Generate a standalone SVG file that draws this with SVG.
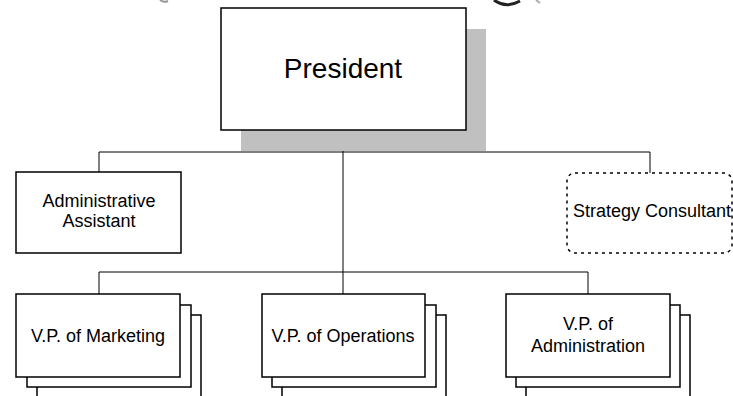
<svg xmlns="http://www.w3.org/2000/svg" width="733" height="396" viewBox="0 0 733 396">
<style>
.box{fill:#fff;stroke:#000;stroke-width:1.5}
.dash{fill:#fff;stroke:#000;stroke-width:1.5;stroke-dasharray:3 4}
.conn{fill:none;stroke:#000;stroke-width:1}
.t{font-family:"Liberation Sans",Arial,sans-serif;font-size:18px;fill:#000}
.c{text-anchor:middle}
</style>
<rect width="733" height="396" fill="#fff"/>
<g id="title-fragments">
<path d="M160 0 Q164 3 168 1" fill="none" stroke="#999" stroke-width="2"/>
<path d="M494 0 Q506 9 520 1" fill="none" stroke="#222" stroke-width="3"/>
<path d="M536 0 L540 3" fill="none" stroke="#aaa" stroke-width="2"/>
</g>
<g id="connectors">
<path class="conn" d="M343 130 V272 M99 152 H650 M99 152 V172 M650 152 V173 M99 272 H588 M99 272 V294 M343 272 V294 M588 272 V294"/>
</g>
<g id="president">
<rect x="241" y="29" width="245" height="122" fill="#c0c0c0"/>
<rect class="box" x="221" y="8" width="245" height="122"/>
<text class="t c" x="343" y="78" style="font-size:28px">President</text>
</g>
<g id="admin-assistant">
<rect class="box" x="16" y="172" width="165" height="81"/>
<text class="t c" x="99" y="207">Administrative</text>
<text class="t c" x="99" y="227">Assistant</text>
</g>
<g id="strategy-consultant">
<rect class="dash" x="567" y="173" width="165" height="80" rx="8"/>
<text class="t" x="573" y="217">Strategy Consultant</text>
</g>
<g id="vp-marketing">
<rect class="box" x="37" y="315" width="164" height="100"/>
<rect class="box" x="27" y="305" width="164" height="82"/>
<rect class="box" x="16" y="294" width="164" height="83"/>
<text class="t c" x="98" y="342">V.P. of Marketing</text>
</g>
<g id="vp-operations">
<rect class="box" x="282" y="315" width="164" height="100"/>
<rect class="box" x="272" y="305" width="164" height="82"/>
<rect class="box" x="262" y="294" width="163" height="83"/>
<text class="t c" x="343" y="342">V.P. of Operations</text>
</g>
<g id="vp-administration">
<rect class="box" x="526" y="315" width="164" height="100"/>
<rect class="box" x="516" y="305" width="164" height="82"/>
<rect class="box" x="506" y="294" width="164" height="83"/>
<text class="t c" x="588" y="330">V.P. of</text>
<text class="t c" x="588" y="352">Administration</text>
</g>
</svg>
